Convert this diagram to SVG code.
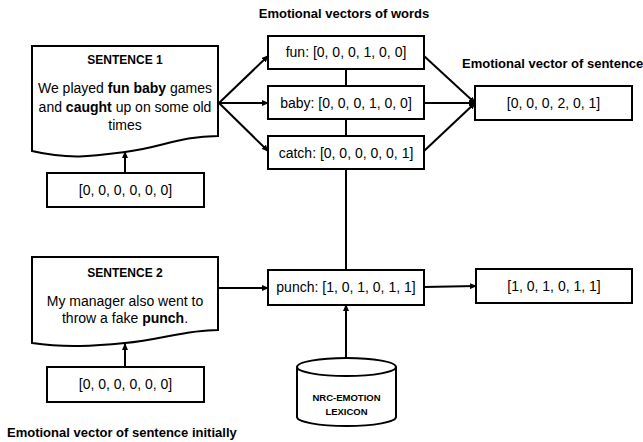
<svg xmlns="http://www.w3.org/2000/svg" width="643" height="442" viewBox="0 0 643 442">
  <style>
    .box { fill: #fff; stroke: #000; stroke-width: 2; }
    .line { fill: none; stroke: #000; stroke-width: 2; }
    .arrow { fill: none; stroke: #000; stroke-width: 2; marker-end: url(#head); }
    text { font-family: "Liberation Sans", Arial, sans-serif; fill: #000; }
    .t { font-size: 14px; text-anchor: middle; }
    .h { font-size: 13px; font-weight: bold; }
    .s { font-size: 12px; font-weight: bold; text-anchor: middle; }
    .db { font-size: 9.5px; font-weight: bold; text-anchor: middle; }
  </style>
  <defs>
    <marker id="head" markerUnits="userSpaceOnUse" markerWidth="7" markerHeight="6" refX="6" refY="3" orient="auto">
      <path d="M0,0 L7,3 L0,6 z" fill="#000"/>
    </marker>
  </defs>

  <rect width="643" height="442" fill="#fff"/>

  <!-- headings -->
  <text class="h" x="344" y="18" text-anchor="middle">Emotional vectors of words</text>
  <text class="h" x="462" y="68">Emotional vector of sentence</text>
  <text class="h" x="7" y="437">Emotional vector of sentence initially</text>

  <!-- connectors -->
  <g id="connectors">
    <path class="arrow" d="M125,173 V152"/>
    <path class="arrow" d="M125,367 V344"/>
    <path class="arrow" d="M219,103 L268,56"/>
    <path class="arrow" d="M219,103 H268"/>
    <path class="arrow" d="M219,103 L268,151"/>
    <path class="arrow" d="M424,56 L475,103"/>
    <path class="arrow" d="M424,103 H475"/>
    <path class="arrow" d="M424,151 L475,103"/>
    <path class="line" d="M346,69 V86 M346,119 V136 M346,169 V270"/>
    <path class="arrow" d="M219,288 H268"/>
    <path class="arrow" d="M424,287 L476,286"/>
    <path class="arrow" d="M346,358 V305"/>
  </g>

  <!-- sentence 1 document -->
  <g id="sentence1">
    <path class="box" d="M32,46 H218 V136 C180,136 160,148 125,152 C95,156 70,160 32,151 Z"/>
    <text class="s" x="125" y="64">SENTENCE 1</text>
    <text class="t" x="125" y="93">We played <tspan font-weight="bold">fun baby</tspan> games</text>
    <text class="t" x="125" y="112">and <tspan font-weight="bold">caught</tspan> up on some old</text>
    <text class="t" x="125" y="130">times</text>
  </g>

  <g id="init1">
    <rect class="box" x="47" y="173" width="157" height="34"/>
    <text class="t" x="125.5" y="195">[0, 0, 0, 0, 0, 0]</text>
  </g>

  <!-- word vectors -->
  <g id="fun">
    <rect class="box" x="268" y="36" width="156" height="33"/>
    <text class="t" x="346" y="57">fun: [0, 0, 0, 1, 0, 0]</text>
  </g>
  <g id="baby">
    <rect class="box" x="268" y="86" width="156" height="33"/>
    <text class="t" x="346" y="108">baby: [0, 0, 0, 1, 0, 0]</text>
  </g>
  <g id="catch">
    <rect class="box" x="268" y="136" width="156" height="33"/>
    <text class="t" x="346" y="158">catch: [0, 0, 0, 0, 0, 1]</text>
  </g>

  <g id="result1">
    <rect class="box" x="475" y="86" width="157" height="34"/>
    <text class="t" x="553.5" y="108">[0, 0, 0, 2, 0, 1]</text>
  </g>

  <!-- sentence 2 document -->
  <g id="sentence2">
    <path class="box" d="M32,257 H218 V330 C185,330 160,340 125,343 C95,346 65,348 32,343 Z"/>
    <text class="s" x="125" y="277">SENTENCE 2</text>
    <text class="t" x="125" y="306">My manager also went to</text>
    <text class="t" x="125" y="323">throw a fake <tspan font-weight="bold">punch</tspan>.</text>
  </g>

  <g id="init2">
    <rect class="box" x="47" y="367" width="157" height="35"/>
    <text class="t" x="125.5" y="389">[0, 0, 0, 0, 0, 0]</text>
  </g>

  <g id="punch">
    <rect class="box" x="268" y="270" width="156" height="35"/>
    <text class="t" x="346" y="292">punch: [1, 0, 1, 0, 1, 1]</text>
  </g>

  <g id="result2">
    <rect class="box" x="476" y="269" width="156" height="34"/>
    <text class="t" x="554" y="291">[1, 0, 1, 0, 1, 1]</text>
  </g>

  <!-- lexicon cylinder -->
  <g id="lexicon">
    <path class="box" d="M297,367 V417 A49.5,9 0 0 0 396,417 V367"/>
    <ellipse class="box" cx="346.5" cy="367" rx="49.5" ry="9"/>
    <text class="db" x="346.5" y="401">NRC-EMOTION</text>
    <text class="db" x="346.5" y="415">LEXICON</text>
  </g>
</svg>
